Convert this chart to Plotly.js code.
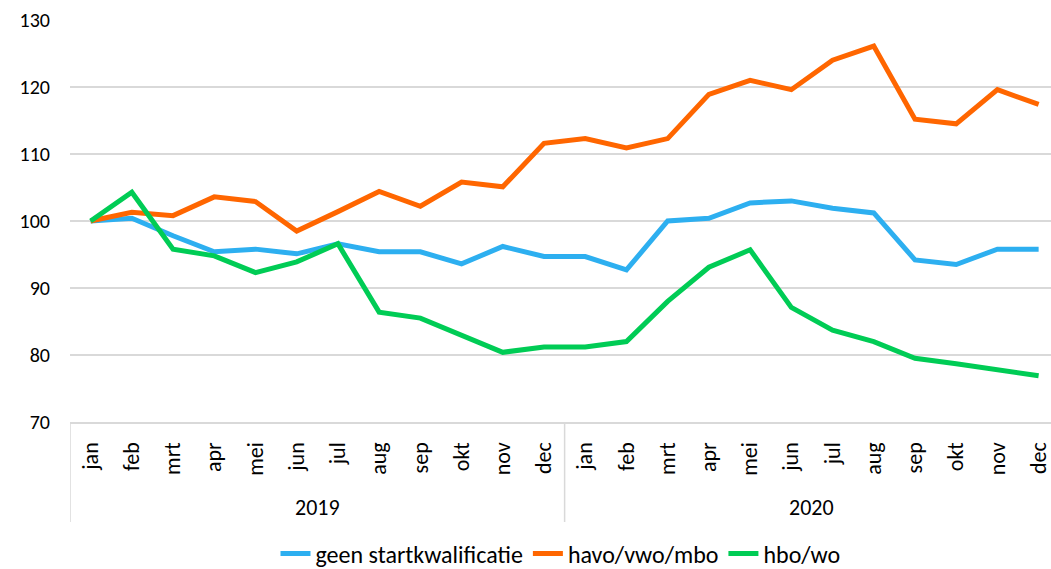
<!DOCTYPE html>
<html>
<head>
<meta charset="utf-8">
<script src="https://cdn.plot.ly/plotly-3.0.1.min.js"></script>
<style>html,body{margin:0;padding:0;background:#fff;}#chart{width:1051px;height:569px;}</style>
</head>
<body>
<div id="chart"></div>
<script>
const months = ["jan","feb","mrt","apr","mei","jun","jul","aug","sep","okt","nov","dec"];
const years = ["2019","2020"];
const seriesNames = ["geen startkwalificatie","havo/vwo/mbo","hbo/wo"];
const geenStart = [100,100.4,97.8,95.4,95.8,95.1,96.6,95.4,95.4,93.6,96.2,94.7,
                   94.7,92.7,100.0,100.4,102.7,103.0,101.9,101.2,94.2,93.5,95.8,95.8];
const havoVwoMbo = [100,101.3,100.8,103.6,102.9,98.5,101.4,104.4,102.2,105.8,105.1,111.6,
                    112.3,110.9,112.3,118.9,121.0,119.6,124.0,126.1,115.2,114.5,119.6,117.4];
const hboWo = [100,104.3,95.8,94.8,92.3,93.9,96.6,86.4,85.5,83.0,80.4,81.2,
               81.2,82.0,88.0,93.1,95.7,87.1,83.7,82.0,79.5,78.7,77.8,76.9];
const colors = ["#2DAFF0","#FF6600","#00CC55"];

const labels = [];
years.forEach(y => months.forEach(m => labels.push(m)));
const xs = labels.map((_, i) => i);

const seriesData = [geenStart, havoVwoMbo, hboWo];
const traces = seriesData.map((d, k) => ({
  x: xs, y: d, type: "scatter", mode: "lines", name: seriesNames[k],
  line: {color: colors[k], width: 5, shape: "linear"},
  hoverinfo: "skip"
}));

const font = "Carlito, Lato, 'Liberation Sans', sans-serif";
const axisBottomPaper = -100/402;
const shapes = years.map((y, g) => ({
  type: "line", xref: "x", yref: "paper", x0: g*months.length - 0.5, x1: g*months.length - 0.5,
  y0: 0, y1: axisBottomPaper, line: {color: "#d9d9d9", width: 1.5}
}));
const annotations = years.map((y, g) => ({
  text: y, xref: "x", yref: "paper", x: g*months.length + (months.length-1)/2, y: -85/402,
  showarrow: false, xanchor: "center", yanchor: "middle", font: {family: font, size: 22, color: "#000"}
}));

const layout = {
  width: 1051, height: 569,
  margin: {l: 70, r: 0, t: 20, b: 147, autoexpand: false},
  paper_bgcolor: "#fff", plot_bgcolor: "#fff",
  font: {family: font, size: 20, color: "#000"},
  showlegend: true,
  legend: {orientation: "h", x: 0.5, xanchor: "center", y: -132/402, yanchor: "middle",
    font: {family: font, size: 24, color: "#000"}, tracegroupgap: 0},
  xaxis: {
    range: [-0.5, 23.3], tickvals: xs, ticktext: labels, tickangle: -90,
    showgrid: false, zeroline: false, showline: true, linecolor: "#d9d9d9", linewidth: 1.5,
    ticks: "", ticklabelstandoff: 10, ticklabeloverflow: "allow", automargin: false,
    tickfont: {family: font, size: 22, color: "#000"}, fixedrange: true
  },
  yaxis: {
    range: [70, 130], dtick: 10, tick0: 70, showgrid: true, gridcolor: "#d9d9d9", gridwidth: 1.5,
    zeroline: false, showline: false, ticks: "", ticklabelstandoff: 19, automargin: false,
    tickfont: {family: font, size: 20, color: "#000"}, fixedrange: true
  },
  shapes: shapes,
  annotations: annotations
};

Plotly.newPlot("chart", traces, layout, {displayModeBar: false, staticPlot: true});
</script>
</body>
</html>
